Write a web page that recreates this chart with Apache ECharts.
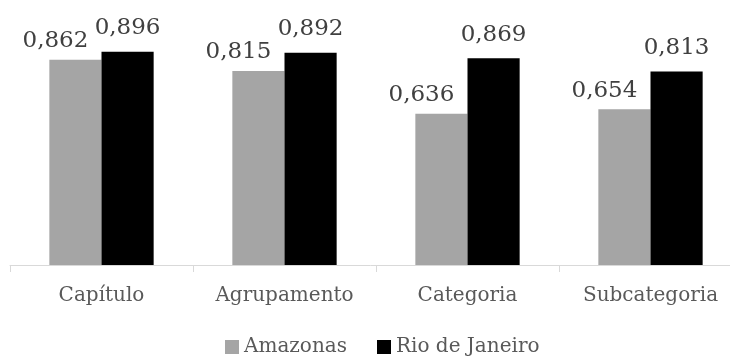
<!DOCTYPE html>
<html>
<head>
<meta charset="utf-8">
<script src="https://cdn.jsdelivr.net/npm/echarts@6/dist/echarts.min.js"></script>
<style>
  html, body { margin: 0; padding: 0; background: #fff; }
  #chart { width: 730px; height: 357px; }
</style>
</head>
<body>
<div id="chart"></div>
<script>
// data
const categories = ["Capítulo", "Agrupamento", "Categoria", "Subcategoria"];
const seriesNames = ["Amazonas", "Rio de Janeiro"];
const amazonas = [0.862, 0.815, 0.636, 0.654];
const rioDeJaneiro = [0.896, 0.892, 0.869, 0.813];

const fontFamily = "DejaVu Serif";
const fmt = (p) => p.value.toFixed(3).replace(".", ",");

const chart = echarts.init(document.getElementById("chart"));

chart.setOption({
  animation: false,
  textStyle: { fontFamily: fontFamily },
  grid: { left: 10, top: 27, width: 732, height: 238, outerBoundsMode: "none", containLabel: false },
  legend: {
    bottom: 0,
    left: 225,
    padding: 0,
    itemWidth: 14,
    itemHeight: 14,
    itemGap: 30,
    icon: "rect",
    textStyle: { fontFamily: fontFamily, fontSize: 20, color: "#595959" },
    data: seriesNames,
  },
  xAxis: {
    type: "category",
    data: categories,
    axisLine: { lineStyle: { color: "#d9d9d9", width: 1 } },
    axisTick: { show: true, length: 7, lineStyle: { color: "#d9d9d9" } },
    axisLabel: { margin: 21, fontFamily: fontFamily, fontSize: 20, color: "#595959" },
  },
  yAxis: {
    type: "value",
    min: 0,
    max: 1,
    show: false,
  },
  series: [
    {
      name: seriesNames[0],
      type: "bar",
      data: amazonas,
      barGap: "0%",
      barCategoryGap: "43%",
      itemStyle: { color: "#a5a5a5" },
      label: {
        show: true,
        position: "top",
        distance: 7,
        offset: [-20, 0],
        formatter: fmt,
        fontFamily: fontFamily,
        fontSize: 23,
        color: "#404040",
      },
    },
    {
      name: seriesNames[1],
      type: "bar",
      data: rioDeJaneiro,
      itemStyle: { color: "#000000" },
      label: {
        show: true,
        position: "top",
        distance: 12,
        formatter: fmt,
        fontFamily: fontFamily,
        fontSize: 23,
        color: "#404040",
      },
    },
  ],
});
</script>
</body>
</html>
